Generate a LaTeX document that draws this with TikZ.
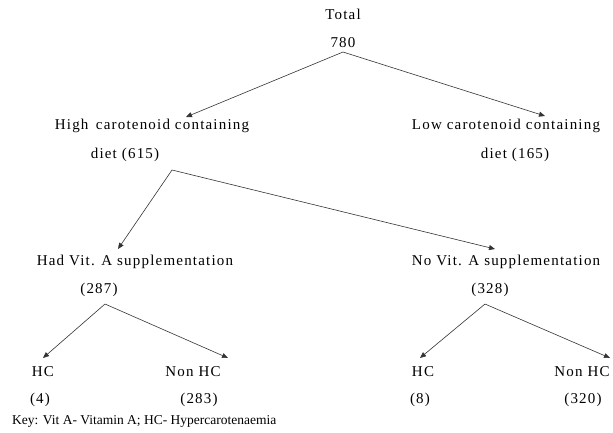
\documentclass[tikz,border=0pt]{standalone}
\usepackage{fontspec}
\setmainfont{Liberation Serif}
\newfontfamily\spaced[LetterSpace=8]{Liberation Serif}
\usetikzlibrary{arrows.meta}
\begin{document}
\begin{tikzpicture}[x=1pt,y=-1pt,
  lbl/.style={inner sep=0pt,font=\spaced\fontsize{15}{17}\selectfont,anchor=center},
  conn/.style={draw=black!80,line width=0.6pt,-{Triangle[length=6pt,width=5pt]}}]
\useasboundingbox (0,0) rectangle (613,432);
\node[lbl] (total) at (343,14) {Total};
\node[lbl] (n780) at (343,43) {780};
\node[lbl] (high) at (152,126) {High\, carotenoid containing};
\node[lbl] (highn) at (125,155) {diet (615)};
\node[lbl] (low) at (506,126) {Low carotenoid containing};
\node[lbl] (lown) at (515,155) {diet (165)};
\node[lbl] (had) at (135,262) {Had Vit. A supplementation};
\node[lbl] (hadn) at (99,290) {(287)};
\node[lbl] (novit) at (506,262) {No Vit. A supplementation};
\node[lbl] (novitn) at (490,290) {(328)};
\node[lbl] (hc1) at (43,372) {HC};
\node[lbl] (hc1n) at (40,400) {(4)};
\node[lbl] (nhc1) at (193,372) {Non HC};
\node[lbl] (nhc1n) at (199,400) {(283)};
\node[lbl] (hc2) at (423,372) {HC};
\node[lbl] (hc2n) at (420,400) {(8)};
\node[lbl] (nhc2) at (582,372) {Non HC};
\node[lbl] (nhc2n) at (583,400) {(320)};
\node[inner sep=0pt,anchor=west,font=\fontsize{13.5}{15}\selectfont] (key) at (12,421) {Key: Vit A- Vitamin A; HC- Hypercarotenaemia};
\coordinate (s1) at (343,52);
\coordinate (e1) at (186,117);
\coordinate (e2) at (545,116);
\coordinate (s2) at (172,170);
\coordinate (e3) at (118,249);
\coordinate (e4) at (495,249);
\coordinate (s3) at (105,304);
\coordinate (e5) at (43,358);
\coordinate (e6) at (228,358);
\coordinate (s4) at (485,304);
\coordinate (e7) at (420,358);
\coordinate (e8) at (610,358);
\draw[conn] (s1) -- (e1);
\draw[conn] (s1) -- (e2);
\draw[conn] (s2) -- (e3);
\draw[conn] (s2) -- (e4);
\draw[conn] (s3) -- (e5);
\draw[conn] (s3) -- (e6);
\draw[conn] (s4) -- (e7);
\draw[conn] (s4) -- (e8);
\end{tikzpicture}
\end{document}
